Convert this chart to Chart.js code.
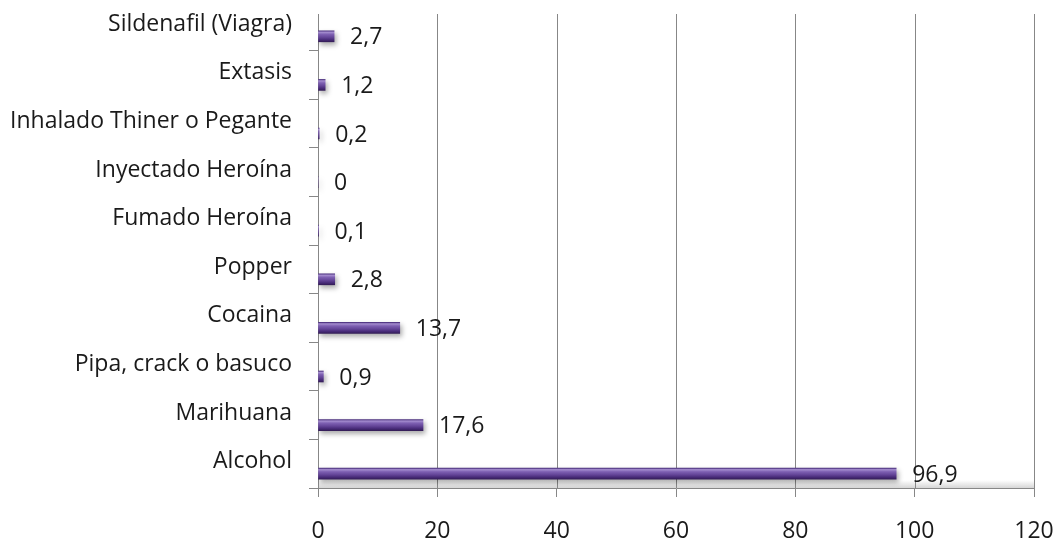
<!DOCTYPE html>
<html>
<head>
<meta charset="utf-8">
<title>Consumo de sustancias</title>
<script src="https://cdn.jsdelivr.net/npm/chart.js@4/dist/chart.umd.min.js"></script>
<style>
  html, body { margin: 0; padding: 0; background: #ffffff; }
  #wrap { width: 1054px; height: 542px; }
</style>
</head>
<body>
<div id="wrap"><canvas id="chart" width="1054" height="542"></canvas></div>
<script>
// Categories, top to bottom
const categories = [
  'Sildenafil (Viagra)',
  'Extasis',
  'Inhalado Thiner o Pegante',
  'Inyectado Heroína',
  'Fumado Heroína',
  'Popper',
  'Cocaina',
  'Pipa, crack o basuco',
  'Marihuana',
  'Alcohol'
];
// Percentages per category
const values = [2.7, 1.2, 0.2, 0, 0.1, 2.8, 13.7, 0.9, 17.6, 96.9];
// Horizontal axis tick values
const xTicks = [0, 20, 40, 60, 80, 100, 120];

const FONT = '"Open Sans", "DejaVu Sans", sans-serif';
const GRID = '#878787';
const BAR_SHIFT = 10;      // bars sit a little below the middle of each band
const BAR_H = 11;

// Cylinder-like shading across the bar thickness
function barFill(context) {
  const chart = context.chart;
  if (!chart.chartArea) return '#6a4a9e';
  const yc = chart.scales.y.getPixelForValue(context.dataIndex);
  const g = chart.ctx.createLinearGradient(0, yc - BAR_H / 2, 0, yc + BAR_H / 2);
  g.addColorStop(0.0, '#4d3280');
  g.addColorStop(0.13, '#a58dcf');
  g.addColorStop(0.32, '#7e60b2');
  g.addColorStop(0.58, '#654699');
  g.addColorStop(0.82, '#482b78');
  g.addColorStop(1.0, '#341d58');
  return g;
}

// Back-wall grid, floor shade, shifted bars with shadow, value labels
const decorations = {
  id: 'decorations',
  beforeDatasetsDraw(chart) {
    const { ctx, chartArea } = chart;
    const xs = chart.scales.x;
    ctx.save();
    // floor shade just above the category axis
    const fg = ctx.createLinearGradient(0, chartArea.bottom - 8, 0, chartArea.bottom);
    fg.addColorStop(0, 'rgba(120,120,120,0)');
    fg.addColorStop(1, 'rgba(120,120,120,0.3)');
    ctx.fillStyle = fg;
    ctx.fillRect(chartArea.left, chartArea.bottom - 8, chartArea.right - chartArea.left, 8);
    // vertical grid lines (the first one doubles as the category axis line)
    ctx.strokeStyle = GRID;
    ctx.lineWidth = 1;
    xTicks.forEach(v => {
      const x = Math.round(xs.getPixelForValue(v)) + 0.5;
      ctx.beginPath();
      ctx.moveTo(x, chartArea.top + 12);
      ctx.lineTo(x, chartArea.bottom);
      ctx.stroke();
    });
    ctx.restore();
    // bars drawn lower in their band, with a soft drop shadow
    ctx.save();
    ctx.translate(0, BAR_SHIFT);
    ctx.shadowColor = 'rgba(0,0,0,0.33)';
    ctx.shadowBlur = 5;
    ctx.shadowOffsetX = 2;
    ctx.shadowOffsetY = 3;
  },
  afterDatasetsDraw(chart) {
    const { ctx } = chart;
    ctx.restore();
    const meta = chart.getDatasetMeta(0);
    ctx.save();
    ctx.font = '23px ' + FONT;
    ctx.fillStyle = '#1a1a1a';
    ctx.textAlign = 'left';
    ctx.textBaseline = 'middle';
    meta.data.forEach((bar, i) => {
      const txt = String(values[i]).replace('.', ',');
      ctx.fillText(txt, bar.x + 16, bar.y + BAR_SHIFT + 1.5);
    });
    ctx.restore();
  }
};

new Chart(document.getElementById('chart'), {
  type: 'bar',
  data: {
    labels: categories,
    datasets: [{
      data: values,
      backgroundColor: barFill,
      borderWidth: 0,
      barThickness: BAR_H
    }]
  },
  options: {
    indexAxis: 'y',
    responsive: false,
    animation: false,
    devicePixelRatio: 1,
    layout: { padding: { top: 2, right: 20, left: 0, bottom: 0 } },
    plugins: {
      legend: { display: false },
      tooltip: { enabled: false }
    },
    scales: {
      x: {
        type: 'linear',
        min: 0,
        max: 120,
        afterBuildTicks: s => { s.ticks = xTicks.map(v => ({ value: v })); },
        afterFit: s => {
          s.height = 54;
          s.paddingLeft = 0;
          s.paddingRight = 0;
        },
        ticks: {
          font: { family: FONT, size: 23 },
          color: '#1a1a1a',
          padding: 21,
          maxRotation: 0
        },
        grid: {
          drawOnChartArea: false,
          drawTicks: true,
          tickLength: 9,
          color: GRID
        },
        border: { display: true, color: GRID, width: 1 }
      },
      y: {
        type: 'category',
        offset: true,
        afterFit: s => {
          s.width = 318;
          s.paddingTop = 0;
          s.paddingBottom = 0;
        },
        ticks: {
          font: { family: FONT, size: 23 },
          color: '#1a1a1a',
          padding: 17,
          labelOffset: -2
        },
        grid: {
          offset: true,
          drawOnChartArea: false,
          drawTicks: true,
          tickLength: 9,
          color: c => (c.index === 0 ? 'rgba(0,0,0,0)' : GRID)
        },
        border: { display: false }
      }
    }
  },
  plugins: [decorations]
});
</script>
</body>
</html>
